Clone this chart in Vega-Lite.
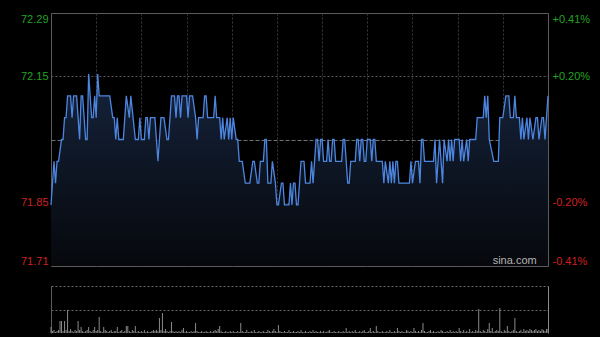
{
"$schema": "https://vega.github.io/schema/vega-lite/v6.json",
"background": "#000000",
"padding": {"left": 19, "top": 12, "right": 12, "bottom": 6},
"spacing": 19,
"config": {
  "view": {"stroke": "#5c5c5c", "strokeWidth": 1},
  "font": "Liberation Sans, Arial, sans-serif",
  "axis": {"labelFont": "Liberation Sans, Arial, sans-serif", "labelFontSize": 11}
},
"datasets": {
"price": [
{"m":0,"p":71.85},{"m":2,"p":71.95},{"m":3,"p":71.90},{"m":4,"p":71.95},{"m":5,"p":71.95},{"m":7,"p":72.00},{"m":8,"p":72.00},{"m":9,"p":72.05},{"m":10,"p":72.05},{"m":11,"p":72.10},{"m":13,"p":72.10},{"m":14,"p":72.05},{"m":15,"p":72.10},{"m":17,"p":72.10},{"m":19,"p":72.00},{"m":20,"p":72.10},{"m":21,"p":72.10},{"m":22,"p":72.05},{"m":23,"p":72.00},{"m":24,"p":72.00},{"m":25,"p":72.15},{"m":27,"p":72.05},{"m":28,"p":72.05},{"m":29,"p":72.10},{"m":30,"p":72.05},{"m":31,"p":72.15},{"m":32,"p":72.10},{"m":39,"p":72.10},{"m":41,"p":72.05},{"m":42,"p":72.05},{"m":43,"p":72.00},{"m":44,"p":72.05},{"m":45,"p":72.00},{"m":48,"p":72.00},{"m":50,"p":72.10},{"m":52,"p":72.05},{"m":53,"p":72.10},{"m":56,"p":72.00},{"m":58,"p":72.00},{"m":59,"p":72.05},{"m":60,"p":72.00},{"m":62,"p":72.00},{"m":63,"p":72.05},{"m":64,"p":72.05},{"m":65,"p":72.00},{"m":66,"p":72.05},{"m":69,"p":72.05},{"m":70,"p":72.00},{"m":71,"p":71.95},{"m":72,"p":72.00},{"m":73,"p":72.05},{"m":75,"p":72.05},{"m":77,"p":72.00},{"m":78,"p":72.00},{"m":80,"p":72.10},{"m":82,"p":72.10},{"m":83,"p":72.05},{"m":84,"p":72.10},{"m":85,"p":72.10},{"m":86,"p":72.05},{"m":87,"p":72.10},{"m":90,"p":72.10},{"m":91,"p":72.05},{"m":92,"p":72.10},{"m":94,"p":72.10},{"m":96,"p":72.05},{"m":97,"p":72.00},{"m":98,"p":72.05},{"m":101,"p":72.05},{"m":102,"p":72.10},{"m":103,"p":72.10},{"m":104,"p":72.05},{"m":108,"p":72.05},{"m":109,"p":72.10},{"m":110,"p":72.05},{"m":112,"p":72.05},{"m":113,"p":72.00},{"m":114,"p":72.05},{"m":115,"p":72.00},{"m":117,"p":72.05},{"m":118,"p":72.00},{"m":119,"p":72.05},{"m":120,"p":72.00},{"m":121,"p":72.05},{"m":123,"p":72.00},{"m":124,"p":72.00},{"m":125,"p":71.95},{"m":127,"p":71.95},{"m":129,"p":71.90},{"m":132,"p":71.90},{"m":134,"p":71.95},{"m":135,"p":71.95},{"m":137,"p":71.90},{"m":138,"p":71.90},{"m":139,"p":71.95},{"m":141,"p":71.95},{"m":142,"p":72.00},{"m":143,"p":72.00},{"m":144,"p":71.90},{"m":146,"p":71.90},{"m":147,"p":71.95},{"m":149,"p":71.90},{"m":150,"p":71.85},{"m":151,"p":71.85},{"m":153,"p":71.90},{"m":154,"p":71.90},{"m":155,"p":71.85},{"m":158,"p":71.85},{"m":159,"p":71.90},{"m":160,"p":71.85},{"m":161,"p":71.90},{"m":162,"p":71.90},{"m":163,"p":71.85},{"m":164,"p":71.85},{"m":166,"p":71.95},{"m":168,"p":71.95},{"m":169,"p":71.90},{"m":172,"p":71.90},{"m":173,"p":71.95},{"m":174,"p":71.90},{"m":176,"p":72.00},{"m":177,"p":72.00},{"m":178,"p":71.95},{"m":179,"p":72.00},{"m":180,"p":72.00},{"m":181,"p":71.95},{"m":183,"p":71.95},{"m":184,"p":72.00},{"m":185,"p":71.95},{"m":186,"p":71.95},{"m":187,"p":72.00},{"m":188,"p":72.00},{"m":189,"p":71.95},{"m":193,"p":71.95},{"m":194,"p":72.00},{"m":195,"p":72.00},{"m":196,"p":71.95},{"m":197,"p":71.90},{"m":198,"p":71.90},{"m":199,"p":71.95},{"m":202,"p":71.95},{"m":203,"p":72.00},{"m":204,"p":72.00},{"m":205,"p":71.95},{"m":206,"p":72.00},{"m":207,"p":72.00},{"m":208,"p":71.95},{"m":209,"p":71.95},{"m":210,"p":72.00},{"m":212,"p":72.00},{"m":213,"p":71.95},{"m":214,"p":72.00},{"m":215,"p":72.00},{"m":216,"p":71.95},{"m":220,"p":71.95},{"m":221,"p":71.90},{"m":222,"p":71.95},{"m":224,"p":71.90},{"m":225,"p":71.95},{"m":226,"p":71.90},{"m":227,"p":71.95},{"m":228,"p":71.90},{"m":229,"p":71.95},{"m":230,"p":71.95},{"m":231,"p":71.90},{"m":234,"p":71.90},{"m":238,"p":71.90},{"m":239,"p":71.95},{"m":240,"p":71.90},{"m":242,"p":71.95},{"m":244,"p":71.95},{"m":245,"p":71.90},{"m":246,"p":72.00},{"m":247,"p":72.00},{"m":248,"p":71.95},{"m":254,"p":71.95},{"m":255,"p":72.00},{"m":256,"p":71.90},{"m":258,"p":72.00},{"m":260,"p":71.90},{"m":261,"p":72.00},{"m":263,"p":71.95},{"m":264,"p":72.00},{"m":265,"p":71.95},{"m":266,"p":72.00},{"m":267,"p":71.95},{"m":268,"p":72.00},{"m":271,"p":72.00},{"m":272,"p":71.95},{"m":273,"p":72.00},{"m":274,"p":71.95},{"m":276,"p":72.00},{"m":277,"p":71.95},{"m":278,"p":72.00},{"m":282,"p":72.00},{"m":283,"p":72.05},{"m":287,"p":72.05},{"m":288,"p":72.10},{"m":289,"p":72.05},{"m":290,"p":72.10},{"m":291,"p":72.00},{"m":294,"p":71.95},{"m":297,"p":71.95},{"m":298,"p":72.05},{"m":300,"p":72.05},{"m":302,"p":72.10},{"m":304,"p":72.10},{"m":305,"p":72.05},{"m":307,"p":72.05},{"m":308,"p":72.10},{"m":309,"p":72.05},{"m":311,"p":72.05},{"m":312,"p":72.00},{"m":313,"p":72.05},{"m":314,"p":72.00},{"m":316,"p":72.05},{"m":317,"p":72.00},{"m":318,"p":72.05},{"m":320,"p":72.00},{"m":322,"p":72.05},{"m":323,"p":72.05},{"m":324,"p":72.00},{"m":326,"p":72.05},{"m":327,"p":72.05},{"m":328,"p":72.00},{"m":330,"p":72.10}
],
"vol": [
{"m":0,"v":6},{"m":1,"v":2},{"m":2,"v":3},{"m":3,"v":1},{"m":4,"v":2},{"m":5,"v":3},{"m":6,"v":12},{"m":7,"v":12},{"m":8,"v":2},{"m":9,"v":12},
{"m":10,"v":3},{"m":11,"v":23},{"m":12,"v":2},{"m":13,"v":4},{"m":14,"v":2},{"m":15,"v":1},{"m":16,"v":3},{"m":17,"v":2},{"m":18,"v":12},{"m":19,"v":3},
{"m":20,"v":6},{"m":21,"v":2},{"m":22,"v":1},{"m":23,"v":2},{"m":24,"v":3},{"m":25,"v":6},{"m":26,"v":2},{"m":27,"v":1},{"m":28,"v":3},{"m":29,"v":6},
{"m":30,"v":2},{"m":31,"v":3},{"m":32,"v":16},{"m":33,"v":2},{"m":34,"v":1},{"m":35,"v":6},{"m":36,"v":3},{"m":37,"v":2},{"m":38,"v":1},{"m":39,"v":2},
{"m":40,"v":3},{"m":41,"v":1},{"m":42,"v":2},{"m":43,"v":2},{"m":44,"v":6},{"m":45,"v":1},{"m":46,"v":2},{"m":47,"v":3},{"m":48,"v":1},{"m":49,"v":2},
{"m":50,"v":7},{"m":51,"v":7},{"m":52,"v":2},{"m":53,"v":1},{"m":54,"v":3},{"m":55,"v":2},{"m":56,"v":7},{"m":57,"v":1},{"m":58,"v":2},{"m":59,"v":1},
{"m":60,"v":2},{"m":61,"v":1},{"m":62,"v":3},{"m":63,"v":1},{"m":64,"v":2},{"m":65,"v":1},{"m":66,"v":1},{"m":67,"v":2},{"m":68,"v":3},{"m":69,"v":2},
{"m":70,"v":3},{"m":71,"v":2},{"m":72,"v":15},{"m":73,"v":3},{"m":74,"v":20},{"m":75,"v":2},{"m":76,"v":4},{"m":77,"v":2},{"m":78,"v":1},{"m":79,"v":2},
{"m":80,"v":11},{"m":81,"v":2},{"m":82,"v":1},{"m":83,"v":2},{"m":84,"v":1},{"m":85,"v":2},{"m":86,"v":1},{"m":87,"v":3},{"m":88,"v":5},{"m":89,"v":1},
{"m":90,"v":2},{"m":91,"v":1},{"m":92,"v":1},{"m":93,"v":2},{"m":94,"v":1},{"m":95,"v":2},{"m":96,"v":10},{"m":97,"v":2},{"m":98,"v":1},{"m":99,"v":1},
{"m":100,"v":2},{"m":101,"v":1},{"m":102,"v":1},{"m":103,"v":2},{"m":104,"v":1},{"m":105,"v":1},{"m":106,"v":2},{"m":107,"v":1},{"m":108,"v":2},{"m":109,"v":3},
{"m":110,"v":2},{"m":111,"v":4},{"m":112,"v":7},{"m":113,"v":2},{"m":114,"v":1},{"m":115,"v":1},{"m":116,"v":2},{"m":117,"v":1},{"m":118,"v":1},{"m":119,"v":2},
{"m":120,"v":1},{"m":121,"v":2},{"m":122,"v":1},{"m":123,"v":1},{"m":124,"v":2},{"m":125,"v":1},{"m":126,"v":10},{"m":127,"v":2},{"m":128,"v":1},{"m":129,"v":1},
{"m":130,"v":3},{"m":131,"v":1},{"m":132,"v":1},{"m":133,"v":2},{"m":134,"v":1},{"m":135,"v":3},{"m":136,"v":1},{"m":137,"v":1},{"m":138,"v":2},{"m":139,"v":1},
{"m":140,"v":1},{"m":141,"v":2},{"m":142,"v":1},{"m":143,"v":1},{"m":144,"v":3},{"m":145,"v":2},{"m":146,"v":1},{"m":147,"v":2},{"m":148,"v":4},{"m":149,"v":2},
{"m":150,"v":1},{"m":151,"v":8},{"m":152,"v":2},{"m":153,"v":1},{"m":154,"v":1},{"m":155,"v":2},{"m":156,"v":1},{"m":157,"v":1},{"m":158,"v":3},{"m":159,"v":1},
{"m":160,"v":1},{"m":161,"v":2},{"m":162,"v":1},{"m":163,"v":1},{"m":164,"v":2},{"m":165,"v":1},{"m":166,"v":3},{"m":167,"v":1},{"m":168,"v":1},{"m":169,"v":2},
{"m":170,"v":1},{"m":171,"v":1},{"m":172,"v":2},{"m":173,"v":1},{"m":174,"v":3},{"m":175,"v":1},{"m":176,"v":2},{"m":177,"v":1},{"m":178,"v":1},{"m":179,"v":2},
{"m":180,"v":1},{"m":181,"v":2},{"m":182,"v":1},{"m":183,"v":1},{"m":184,"v":2},{"m":185,"v":3},{"m":186,"v":1},{"m":187,"v":1},{"m":188,"v":2},{"m":189,"v":1},
{"m":190,"v":1},{"m":191,"v":2},{"m":192,"v":1},{"m":193,"v":1},{"m":194,"v":2},{"m":195,"v":1},{"m":196,"v":5},{"m":197,"v":1},{"m":198,"v":2},{"m":199,"v":1},
{"m":200,"v":2},{"m":201,"v":1},{"m":202,"v":3},{"m":203,"v":1},{"m":204,"v":1},{"m":205,"v":2},{"m":206,"v":1},{"m":207,"v":2},{"m":208,"v":3},{"m":209,"v":1},
{"m":210,"v":1},{"m":211,"v":2},{"m":212,"v":5},{"m":213,"v":1},{"m":214,"v":2},{"m":215,"v":1},{"m":216,"v":7},{"m":217,"v":2},{"m":218,"v":1},{"m":219,"v":1},
{"m":220,"v":2},{"m":221,"v":1},{"m":222,"v":1},{"m":223,"v":2},{"m":224,"v":1},{"m":225,"v":3},{"m":226,"v":1},{"m":227,"v":1},{"m":228,"v":2},{"m":229,"v":1},
{"m":230,"v":5},{"m":231,"v":2},{"m":232,"v":1},{"m":233,"v":2},{"m":234,"v":1},{"m":235,"v":1},{"m":236,"v":3},{"m":237,"v":2},{"m":238,"v":1},{"m":239,"v":2},
{"m":240,"v":1},{"m":241,"v":5},{"m":242,"v":2},{"m":243,"v":1},{"m":244,"v":2},{"m":245,"v":1},{"m":246,"v":3},{"m":247,"v":10},{"m":248,"v":2},{"m":249,"v":1},
{"m":250,"v":1},{"m":251,"v":2},{"m":252,"v":3},{"m":253,"v":1},{"m":254,"v":2},{"m":255,"v":1},{"m":256,"v":1},{"m":257,"v":2},{"m":258,"v":1},{"m":259,"v":3},
{"m":260,"v":2},{"m":261,"v":1},{"m":262,"v":1},{"m":263,"v":2},{"m":264,"v":1},{"m":265,"v":3},{"m":266,"v":1},{"m":267,"v":2},{"m":268,"v":1},{"m":269,"v":2},
{"m":270,"v":1},{"m":271,"v":5},{"m":272,"v":2},{"m":273,"v":1},{"m":274,"v":3},{"m":275,"v":1},{"m":276,"v":2},{"m":277,"v":1},{"m":278,"v":4},{"m":279,"v":1},
{"m":280,"v":2},{"m":281,"v":1},{"m":282,"v":3},{"m":283,"v":2},{"m":284,"v":24},{"m":285,"v":2},{"m":286,"v":1},{"m":287,"v":3},{"m":288,"v":2},{"m":289,"v":1},
{"m":290,"v":4},{"m":291,"v":10},{"m":292,"v":2},{"m":293,"v":5},{"m":294,"v":1},{"m":295,"v":2},{"m":296,"v":3},{"m":297,"v":2},{"m":298,"v":25},{"m":299,"v":2},
{"m":300,"v":1},{"m":301,"v":3},{"m":302,"v":2},{"m":303,"v":7},{"m":304,"v":2},{"m":305,"v":1},{"m":306,"v":2},{"m":307,"v":3},{"m":308,"v":15},{"m":309,"v":2},
{"m":310,"v":1},{"m":311,"v":2},{"m":312,"v":3},{"m":313,"v":1},{"m":314,"v":4},{"m":315,"v":2},{"m":316,"v":3},{"m":317,"v":2},{"m":318,"v":4},{"m":319,"v":3},
{"m":320,"v":2},{"m":321,"v":3},{"m":322,"v":4},{"m":323,"v":2},{"m":324,"v":3},{"m":325,"v":2},{"m":326,"v":4},{"m":327,"v":3},{"m":328,"v":2},{"m":329,"v":4},
{"m":330,"v":4}
]
},
"vconcat": [
{
  "width": 497, "height": 253,
  "data": {"name": "price"},
  "resolve": {"axis": {"y": "independent"}},
  "layer": [
    {
      "mark": {"type": "area", "line": false, "opacity": 1,
        "color": {"x1": 0, "y1": 0, "x2": 0, "y2": 1, "gradient": "linear",
          "stops": [{"offset": 0, "color": "#15233b"}, {"offset": 1, "color": "#06080c"}]}},
      "encoding": {
        "x": {"field": "m", "type": "quantitative",
          "scale": {"domain": [0, 330], "nice": false, "zero": false},
          "axis": {"values": [30, 60, 90, 120, 150, 180, 210, 240, 270, 300], "grid": true, "gridColor": "#3a3a3a", "gridDash": [2, 2], "labels": false, "ticks": false, "domain": false, "title": null}},
        "y": {"field": "p", "type": "quantitative",
          "scale": {"domain": [71.71, 72.29], "nice": false, "zero": false},
          "axis": {"values": [72.29, 72.145, 72.0, 71.855, 71.71], "orient": "left", "title": null, "domain": false, "ticks": false, "labelPadding": 3, "labelFlush": true,
            "labelExpr": "datum.value > 72.2 ? '72.29' : datum.value > 72.1 ? '72.15' : datum.value > 71.9 ? '' : datum.value > 71.8 ? '71.85' : '71.71'",
            "labelColor": {"condition": {"test": "datum.value > 72", "value": "#22a322"}, "value": "#d02020"},
            "grid": true,
            "gridColor": {"condition": {"test": "datum.value == 72", "value": "#707070"}, "value": "#555555"},
            "gridDash": {"condition": {"test": "datum.value == 72", "value": [4, 2]}, "value": [2, 2]},
            "gridOpacity": {"condition": {"test": "datum.value > 72.2 || datum.value < 71.8", "value": 0}, "value": 1}}},
        "y2": {"datum": 71.71}
      }
    },
    {
      "mark": {"type": "line", "color": "#4d86e0", "strokeWidth": 1.3},
      "encoding": {
        "x": {"field": "m", "type": "quantitative"},
        "y": {"field": "p", "type": "quantitative",
          "axis": {"values": [72.29, 72.145, 72.0, 71.855, 71.71], "orient": "right", "title": null, "domain": false, "ticks": false, "grid": false, "labelPadding": 4, "labelFlush": true,
            "labelExpr": "datum.value > 72.2 ? '+0.41%' : datum.value > 72.1 ? '+0.20%' : datum.value > 71.9 ? '' : datum.value > 71.8 ? '-0.20%' : '-0.41%'",
            "labelColor": {"condition": {"test": "datum.value > 72", "value": "#22a322"}, "value": "#d02020"}}}
      }
    },
    {
      "data": {"values": [{"t": "sina.com", "m": 322.5, "p": 71.715}]},
      "mark": {"type": "text", "align": "right", "baseline": "alphabetic", "color": "#b4b4b4", "fontSize": 11, "font": "Liberation Sans, Arial, sans-serif"},
      "encoding": {
        "x": {"field": "m", "type": "quantitative"},
        "y": {"field": "p", "type": "quantitative", "axis": null},
        "text": {"field": "t"}
      }
    }
  ]
},
{
  "width": 497, "height": 47,
  "data": {"name": "vol"},
  "view": {"stroke": null},
  "resolve": {"axis": {"y": "independent"}},
  "layer": [
    {
      "mark": {"type": "rule", "color": "#8a8a8a", "strokeWidth": 1},
      "encoding": {
        "x": {"field": "m", "type": "quantitative", "scale": {"domain": [0, 330], "nice": false, "zero": false}, "axis": null},
        "y": {"field": "v", "type": "quantitative", "scale": {"domain": [0, 47], "nice": false},
          "axis": {"values": [23.5, 47], "grid": true, "gridColor": "#6a6a6a", "gridDash": [2, 2], "labels": false, "ticks": false, "domain": true, "domainColor": "#5c5c5c", "title": null}},
        "y2": {"datum": 0}
      }
    },
    {
      "mark": {"type": "rule", "opacity": 0},
      "encoding": {
        "y": {"field": "v", "type": "quantitative",
          "axis": {"orient": "right", "labels": false, "ticks": false, "grid": false, "domain": true, "domainColor": "#8a8a8a", "title": null}}
      }
    }
  ]
}
]
}
